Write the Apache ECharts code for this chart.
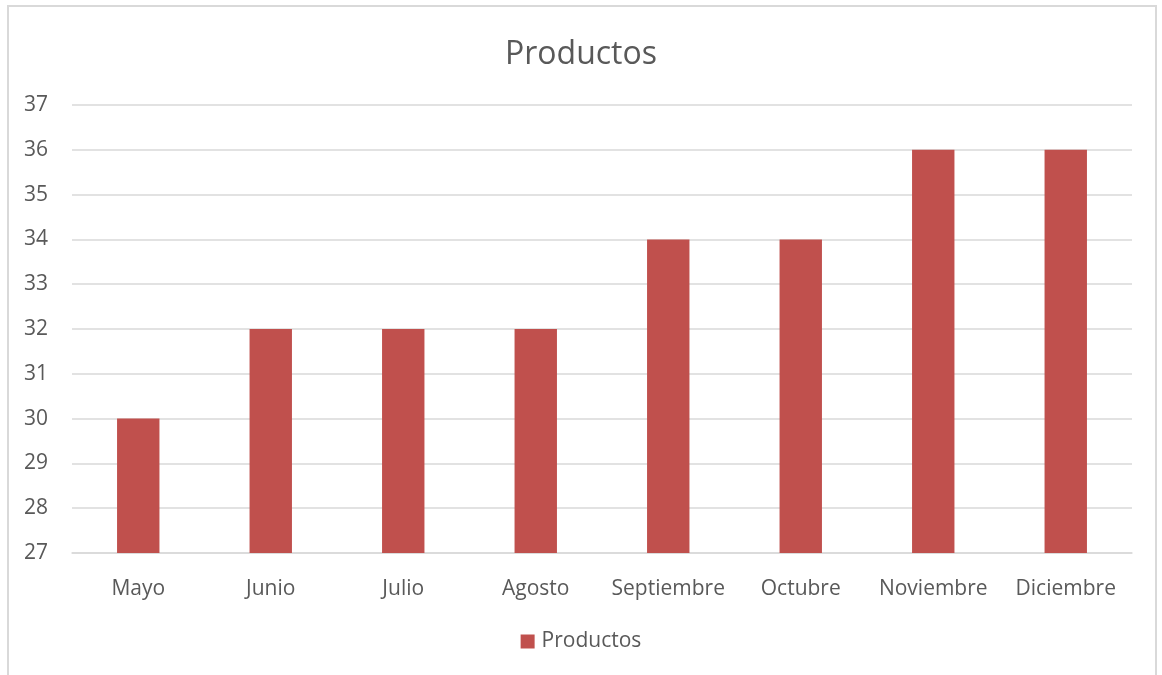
<!DOCTYPE html>
<html>
<head>
<meta charset="utf-8">
<script src="https://cdn.jsdelivr.net/npm/echarts@6/dist/echarts.min.js"></script>
<style>
html,body{margin:0;padding:0;background:#fff;}
#frame{position:absolute;left:7px;top:5px;width:1150px;height:700px;border:2px solid #d9d9d9;box-sizing:border-box;}
#chart{position:absolute;left:0;top:0;width:1162px;height:675px;}
</style>
</head>
<body>
<div id="frame"></div>
<div id="chart"></div>
<script>
const categories = ["Mayo","Junio","Julio","Agosto","Septiembre","Octubre","Noviembre","Diciembre"];
const productos = [30,32,32,32,34,34,36,36];
const seriesName = "Productos";
const chartTitle = "Productos";

const font = "'Open Sans', 'Noto Sans', sans-serif";
const chart = echarts.init(document.getElementById('chart'));
chart.setOption({
  animation: false,
  title: {
    text: chartTitle, left: 'center', top: 34,
    textStyle: { fontFamily: font, fontSize: 32, fontWeight: 'normal', color: '#595959' }
  },
  legend: {
    data: [seriesName], bottom: 18, left: 'center',
    icon: 'rect', itemWidth: 14, itemHeight: 14, itemGap: 8,
    textStyle: { fontFamily: font, fontSize: 21, color: '#595959', padding: [0, 0, 0, 2] }
  },
  grid: { left: 72, right: 30, top: 105, bottom: 122 },
  xAxis: {
    type: 'category', data: categories,
    axisLine: { lineStyle: { color: '#d9d9d9', width: 1.5 } },
    axisTick: { show: false },
    axisLabel: { interval: 0, hideOverlap: false, fontFamily: font, fontSize: 21, color: '#595959', margin: 26 }
  },
  yAxis: {
    type: 'value', min: 27, max: 37, interval: 1,
    axisLine: { show: false }, axisTick: { show: false },
    splitLine: { lineStyle: { color: '#d9d9d9', width: 1.5 } },
    axisLabel: { fontFamily: font, fontSize: 21, color: '#595959', margin: 24 }
  },
  series: [{
    name: seriesName, type: 'bar', data: productos,
    barWidth: '32%', itemStyle: { color: '#C0504D' }
  }]
});
</script>
</body>
</html>
